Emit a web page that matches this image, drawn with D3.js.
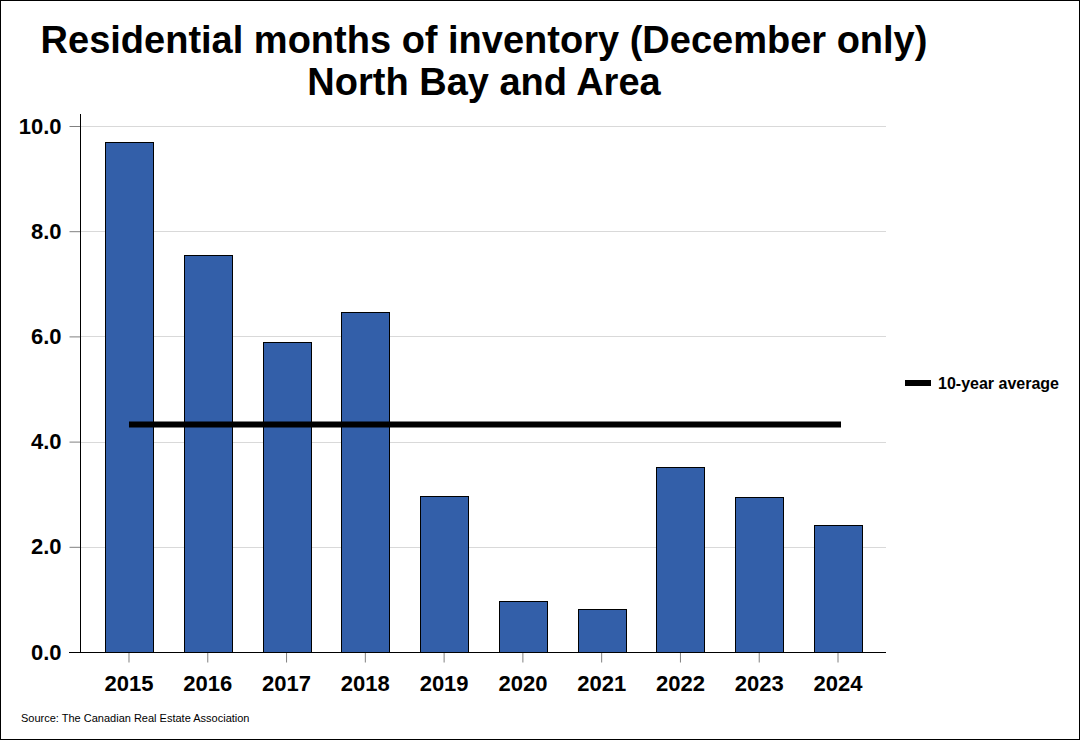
<!DOCTYPE html>
<html><head><meta charset="utf-8">
<script src="https://cdn.jsdelivr.net/npm/d3@7"></script>
<style>body{margin:0;background:#fff}svg{display:block}</style>
</head><body>
<svg id="c" width="1080" height="740"></svg>
<script>
const years = ["2015","2016","2017","2018","2019","2020","2021","2022","2023","2024"];
const values = [9.70, 7.55, 5.89, 6.46, 2.97, 0.97, 0.82, 3.52, 2.95, 2.41];
const yTicks = [0, 2, 4, 6, 8, 10];
const titleLines = ["Residential months of inventory (December only)", "North Bay and Area"];
const legendLabel = "10-year average";
const sourceText = "Source: The Canadian Real Estate Association";
const average = d3.mean(values);

const svg = d3.select("#c");
const font = "Arial, 'Liberation Sans', sans-serif";

svg.append("rect").attr("x",0.5).attr("y",0.5).attr("width",1079).attr("height",739)
  .attr("fill","#fff").attr("stroke","#000").attr("stroke-width",1);

const x = d3.scaleBand().domain(years).range([89.6, 877.4]).paddingInner(0.39).paddingOuter(0.195);
const y = d3.scaleLinear().domain([0, 10]).range([652, 126]);
const left = 80.5, right = 886;

// gridlines
svg.append("g").selectAll("line").data(yTicks.filter(d=>d>0)).join("line")
  .attr("x1", left).attr("x2", right)
  .attr("y1", d=>Math.round(y(d))+0.5).attr("y2", d=>Math.round(y(d))+0.5)
  .attr("stroke","#d9d9d9").attr("stroke-width",1);

// bars
svg.append("g").selectAll("rect").data(values).join("rect")
  .attr("x", (d,i)=>Math.round(x(years[i]))+0.5)
  .attr("y", d=>Math.round(y(d))+0.5)
  .attr("width", Math.round(x.bandwidth()))
  .attr("height", d=>652 - Math.round(y(d)))
  .attr("fill","#335fa9").attr("stroke","#000").attr("stroke-width",1);

// y axis
const yAxis = svg.append("g").attr("transform",`translate(${left},0)`)
  .call(d3.axisLeft(y).tickValues(yTicks).tickFormat(d3.format(".1f")).tickSize(11).tickPadding(8));
yAxis.select(".domain").remove();
yAxis.selectAll(".tick line").attr("stroke","#808080");
yAxis.selectAll(".tick text").attr("font-family",font).attr("font-weight","bold")
  .attr("font-size",22).attr("fill","#000");
svg.append("line").attr("x1",left).attr("x2",left).attr("y1",114).attr("y2",652)
  .attr("stroke","#000").attr("stroke-width",1);

// x axis
const xAxis = svg.append("g").attr("transform",`translate(0,652.5)`)
  .call(d3.axisBottom(x).tickSize(10).tickPadding(13));
xAxis.select(".domain").remove();
xAxis.selectAll(".tick line").attr("stroke","#808080");
xAxis.selectAll(".tick text").attr("font-family",font).attr("font-weight","bold")
  .attr("font-size",22).attr("fill","#000");
svg.append("line").attr("x1",69).attr("x2",right).attr("y1",652.5).attr("y2",652.5)
  .attr("stroke","#000").attr("stroke-width",1);

// average line
svg.append("line")
  .attr("x1", x(years[0]) + x.bandwidth()/2)
  .attr("x2", x(years[years.length-1]) + x.bandwidth()/2 + 3)
  .attr("y1", y(average)).attr("y2", y(average))
  .attr("stroke","#000").attr("stroke-width",6);

// legend
svg.append("line").attr("x1",905).attr("x2",931).attr("y1",383).attr("y2",383)
  .attr("stroke","#000").attr("stroke-width",6);
svg.append("text").attr("x",938).attr("y",389).text(legendLabel)
  .attr("font-family",font).attr("font-weight","bold").attr("font-size",16).attr("fill","#000");

// title
svg.append("g").selectAll("text").data(titleLines).join("text")
  .attr("x",484).attr("y",(d,i)=>53+i*42).attr("text-anchor","middle")
  .attr("font-family",font).attr("font-weight","bold").attr("font-size",38).attr("fill","#000")
  .text(d=>d);

// source
svg.append("text").attr("x",21).attr("y",722).text(sourceText)
  .attr("font-family",font).attr("font-size",11).attr("fill","#000");
</script>
</body></html>
